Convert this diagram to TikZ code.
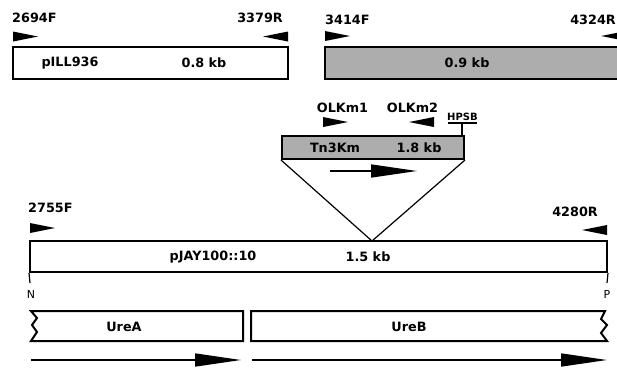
\documentclass[tikz,border=0pt]{standalone}
\usepackage{fontspec}
\setmainfont{DejaVu Sans}
\usetikzlibrary{arrows.meta}
\begin{document}
\begin{tikzpicture}[x=1pt,y=-1pt,
  lbl/.style={font=\bfseries\fontsize{12.8}{14}\selectfont, inner sep=0pt},
  small/.style={font=\bfseries\fontsize{10}{11}\selectfont, inner sep=0pt},
  tiny/.style={font=\fontsize{11}{12}\selectfont, inner sep=0pt},
  box/.style={draw, line width=2pt, rectangle, inner sep=0pt, fill=white},
  gbox/.style={box, fill=black!32},
  gene/.style={line width=2pt, fill=white},
  thin/.style={line width=1.2pt},
  orf/.style={line width=1.5pt, -{Triangle[length=46pt,width=13pt]}},
]
\useasboundingbox (0,0) rectangle (617,367);
\newcommand\pfwd[2]{\fill (#1,#2-5) -- (#1+25,#2) -- (#1,#2+5) -- cycle;}
\newcommand\prev[2]{\fill (#1,#2-5) -- (#1-25,#2) -- (#1,#2+5) -- cycle;}

% top left box
\node[box, minimum width=275pt, minimum height=32pt] (pill) at (150.5,63) {};
\node[lbl] (pilltxt) at (70,63) {pILL936};
\node[lbl] (pillkb) at (204,63) {0.8 kb};
\node[lbl, anchor=west] (p2694) at (12,18) {2694F};
\node[lbl, anchor=east] (p3379) at (283,18) {3379R};
\pfwd{13}{36.5}
\prev{288}{36.5}

% top right box
\node[gbox, minimum width=305pt, minimum height=32pt] (right) at (477.5,63) {};
\node[lbl] (rightkb) at (467,63) {0.9 kb};
\node[lbl, anchor=west] (p3414) at (325,20) {3414F};
\node[lbl, anchor=east] (p4324) at (616,20) {4324R};
\pfwd{325}{36}
\prev{626}{36}

% transposon
\node[gbox, minimum width=182pt, minimum height=23pt] (tn) at (373,147.5) {};
\node[lbl] (tntxt) at (335,148) {Tn3Km};
\node[lbl] (tnkb) at (419,148) {1.8 kb};
\node[lbl] (olk1) at (342.5,107.5) {OLKm1};
\node[lbl] (olk2) at (412.5,107.5) {OLKm2};
\pfwd{323}{122}
\prev{434}{122}
\node[small] (hpsb) at (462.5,116.5) {HPSB};
\coordinate (hp) at (462,123);
\draw[thin] (448,123) -- (477,123);
\draw[thin] (hp) -- (hp |- tn.north);
\coordinate (tnA) at (330,171);
\coordinate (tnB) at (417,171);
\draw[orf] (tnA) -- (tnB);

% main box
\node[box, minimum width=577pt, minimum height=31pt] (pjay) at (318.5,256.5) {};
\node[lbl] (pjaytxt) at (213,257) {pJAY100::10};
\node[lbl] (pjaykb) at (368,257) {1.5 kb};
\node[lbl, anchor=west] (p2755) at (28,208) {2755F};
\node[lbl, anchor=east] (p4280) at (598,212) {4280R};
\pfwd{30}{228}
\prev{607}{230}
\coordinate (ins) at (372,241);
\draw[thin] (tn.south west) -- (ins) -- (tn.south east);
\coordinate (nT) at (30,283);
\coordinate (pT) at (607,283);
\draw[thin] (pjay.south west) -- (nT);
\draw[thin] (pjay.south east) -- (pT);
\node[tiny] (nlab) at (31,294) {N};
\node[tiny] (plab) at (607,294) {P};

% genes
\draw[gene] (243,311) -- (31,311) -- (37,318) -- (32,325) -- (37,332) -- (31,341) -- (243,341) -- cycle;
\draw[gene] (251,311) -- (605,311) -- (601,319) -- (607,325) -- (601,333) -- (607,341) -- (251,341) -- cycle;
\node[lbl] (urea) at (124,327) {UreA};
\node[lbl] (ureb) at (409,327) {UreB};
\coordinate (aA) at (31,360);
\coordinate (aB) at (241,360);
\coordinate (bA) at (252,360);
\coordinate (bB) at (607,360);
\draw[orf] (aA) -- (aB);
\draw[orf] (bA) -- (bB);
\end{tikzpicture}
\end{document}
